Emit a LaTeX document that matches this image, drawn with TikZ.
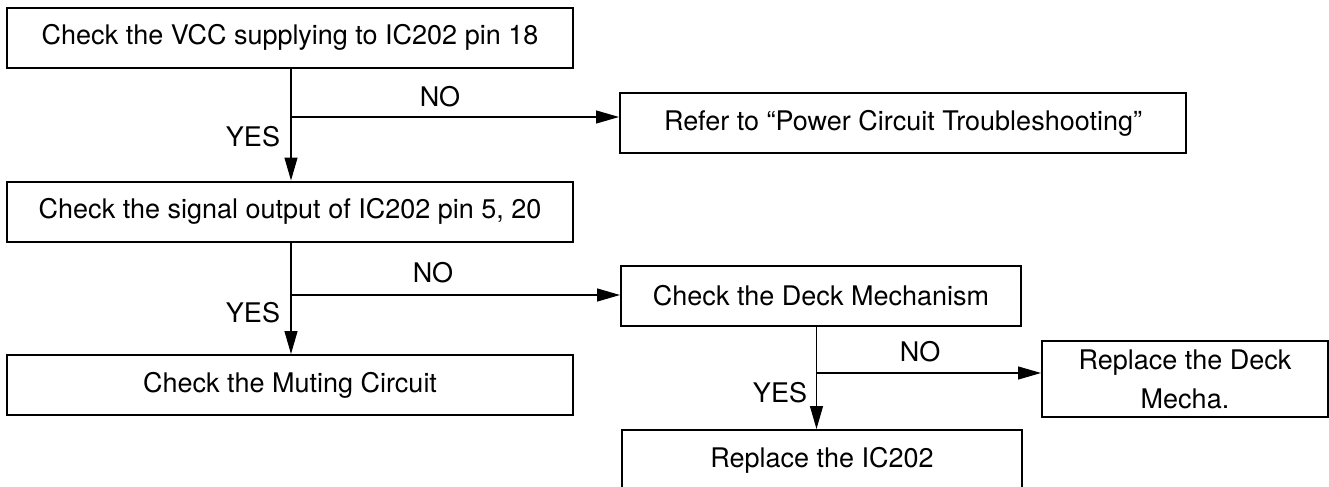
\documentclass[tikz,border=0pt]{standalone}
\usepackage{fontspec}
\setmainfont{TeX Gyre Heros}
\usetikzlibrary{arrows.meta}

\tikzset{
  box/.style={draw, line width=1pt, inner sep=0pt, align=center,
    minimum width=283pt, minimum height=30pt},
  smallbox/.style={box, minimum width=200pt},
  conn/.style={line width=0.6pt, -{Triangle[length=11.5pt,width=6.5pt]}},
  branch/.style={line width=0.6pt},
}

\begin{document}
\begin{tikzpicture}[x=0.5pt, y=-0.5pt, font=\fontsize{13.5}{19.5}\selectfont]
    \clip (0,0) rectangle (1329,487);

    % Cajas de la rama izquierda
    \node[box] (vcc)    at (290, 37.5) {Check the VCC supplying to IC202 pin 18};
    \node[box] (signal) at (290, 211.5) {Check the signal output of IC202 pin 5, 20};
    \node[box] (muting) at (290, 385) {Check the Muting Circuit};

    % Cajas de la derecha
    \node[box]      (refer) at (903, 123) {Refer to “Power Circuit Troubleshooting”};
    \node[smallbox] (deck)  at (821, 296) {Check the Deck Mechanism};
    \node[smallbox] (ic)    at (822, 460) {Replace the IC202};
    \node[box, minimum width=143pt, minimum height=38pt]
        (mecha) at (1185, 379) {Replace the Deck\\Mecha.};

    % Puntos de bifurcación
    \coordinate (b1) at (291, 117);
    \coordinate (b2) at (291, 295);
    \coordinate (b3) at (816.5, 373);

    % Flechas YES (verticales)
    \draw[conn] (vcc.south -| b1) -- (signal.north -| b1);
    \draw[conn] (signal.south -| b2) -- (muting.north -| b2);
    \draw[conn] (deck.south -| b3) -- (ic.north -| b3);

    % Flechas NO (horizontales)
    \draw[conn] (b1) -- (b1 -| refer.west);
    \draw[conn] (b2) -- (b2 -| deck.west);
    \draw[conn] (b3) -- (b3 -| mecha.west);

    % Etiquetas
    \node (no1)  at (440, 97)  {NO};
    \node (yes1) at (253, 137) {YES};
    \node (no2)  at (433, 273) {NO};
    \node (yes2) at (253, 313) {YES};
    \node (no3)  at (920, 352) {NO};
    \node (yes3) at (780, 393) {YES};
\end{tikzpicture}
\end{document}
